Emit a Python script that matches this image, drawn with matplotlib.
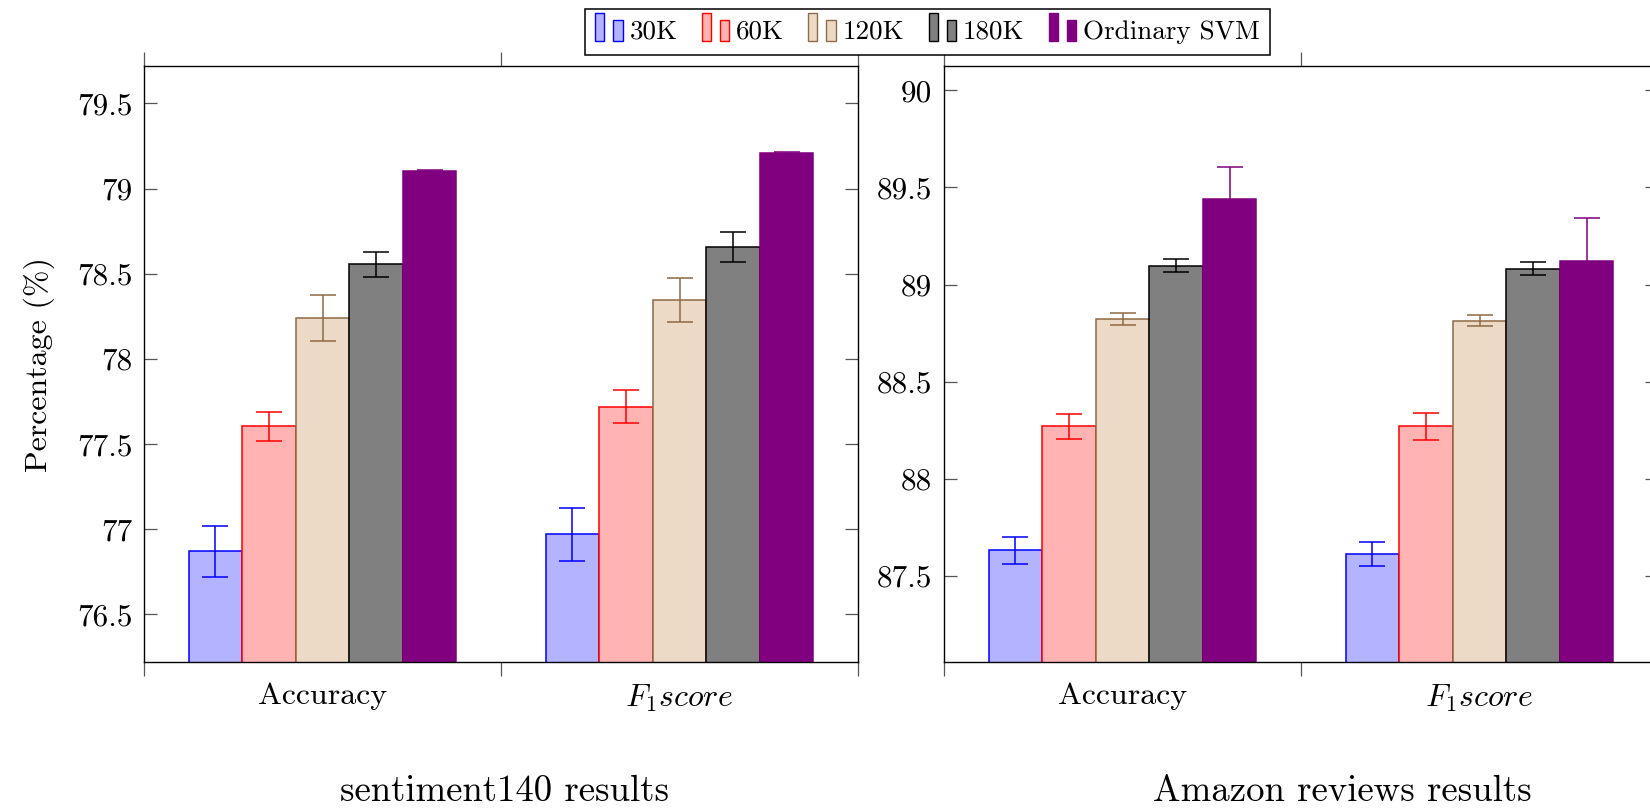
import matplotlib
matplotlib.use("Agg")
import matplotlib.pyplot as plt
import numpy as np
from matplotlib.patches import Rectangle, Patch
from matplotlib.legend_handler import HandlerBase
from matplotlib.ticker import FuncFormatter

# ---------------- data ----------------
categories = ["Accuracy", r"$F_1 score$"]
series_labels = ["30K", "60K", "120K", "180K", "Ordinary SVM"]

# sentiment140 (Accuracy, F1)
s140_30k = [76.87, 76.97]
s140_60k = [77.605, 77.72]
s140_120k = [78.24, 78.345]
s140_180k = [78.555, 78.655]
s140_svm = [79.105, 79.21]
s140_30k_err = [0.15, 0.157]
s140_60k_err = [0.085, 0.098]
s140_120k_err = [0.135, 0.13]
s140_180k_err = [0.073, 0.088]
s140_svm_err = [0.005, 0.006]

# Amazon reviews (Accuracy, F1)
amz_30k = [87.632, 87.613]
amz_60k = [88.27, 88.27]
amz_120k = [88.823, 88.814]
amz_180k = [89.098, 89.081]
amz_svm = [89.44, 89.12]
amz_30k_err = [0.07, 0.062]
amz_60k_err = [0.064, 0.068]
amz_120k_err = [0.032, 0.028]
amz_180k_err = [0.033, 0.033]
amz_svm_err = [0.165, 0.225]

s140_yticks = [76.5, 77, 77.5, 78, 78.5, 79, 79.5]
amz_yticks = [87.5, 88, 88.5, 89, 89.5, 90]

# ---------------- style ----------------
plt.rcParams["font.family"] = ["cmr10", "DejaVu Serif"]
plt.rcParams["mathtext.fontset"] = "cm"
plt.rcParams["axes.unicode_minus"] = False

face_colors = ["#B3B3FF", "#FFB3B3", "#ECD9C6", "#808080", "#800080"]
edge_colors = ["#0000FF", "#FF0000", "#8F6A45", "#000000", "#800080"]

W, H = 1650, 809
fig = plt.figure(figsize=(W / 100, H / 100), dpi=100)

ax1 = fig.add_axes([144 / W, 1 - 662 / H, 714 / W, 596 / H])
ax2 = fig.add_axes([944 / W, 1 - 662 / H, 714 / W, 596 / H])

bar_w = 0.15
offsets = (np.arange(5) - 2) * bar_w
x = np.arange(len(categories))


def draw(ax, vals, errs, ylim, yticks):
    for i in range(5):
        ax.bar(x + offsets[i], vals[i], width=bar_w, color=face_colors[i],
               edgecolor=edge_colors[i], linewidth=1.1, zorder=2,
               yerr=errs[i],
               error_kw=dict(ecolor=edge_colors[i], elinewidth=1.1,
                             capsize=9.4, capthick=1.1, zorder=3))
    ax.set_xlim(-0.5, 1.5)
    ax.set_ylim(*ylim)
    ax.set_yticks(yticks)
    ax.yaxis.set_major_formatter(FuncFormatter(lambda v, p: "%g" % v))
    ax.set_xticks([-0.5, 0.5, 1.5])
    ax.set_xticklabels([])
    ax.set_xticks(x, minor=True)
    ax.set_xticklabels(categories, minor=True, fontsize=23)
    ax.tick_params(axis="x", which="major", direction="out", length=10,
                   width=0.9, color="#555555", top=True, bottom=True)
    ax.tick_params(axis="x", which="minor", length=0, pad=15,
                   bottom=True, top=False)
    ax.tick_params(axis="y", direction="in", length=9.4, width=0.9,
                   color="#555555", left=True, right=True, labelsize=22.5,
                   pad=8.4)
    for s in ax.spines.values():
        s.set_linewidth(1.0)
        s.set_color("black")


draw(ax1,
     [s140_30k, s140_60k, s140_120k, s140_180k, s140_svm],
     [s140_30k_err, s140_60k_err, s140_120k_err, s140_180k_err, s140_svm_err],
     (76.22, 79.72), s140_yticks)
draw(ax2,
     [amz_30k, amz_60k, amz_120k, amz_180k, amz_svm],
     [amz_30k_err, amz_60k_err, amz_120k_err, amz_180k_err, amz_svm_err],
     (87.057, 90.125), amz_yticks)

fig.text(39 / W, 1 - 365 / H, "Percentage (%)", rotation=90,
         ha="center", va="center", fontsize=23)
fig.text(505 / W, 1 - 791 / H, "sentiment140 results",
         ha="center", va="center", fontsize=26.5)
fig.text(1342 / W, 1 - 791 / H, "Amazon reviews results",
         ha="center", va="center", fontsize=26.5)


class TwoBarHandler(HandlerBase):
    def create_artists(self, legend, orig_handle, xdescent, ydescent,
                       width, height, fontsize, trans):
        fc = orig_handle.get_facecolor()
        ec = orig_handle.get_edgecolor()
        w = width / 3.0
        y0 = -ydescent - 0.12 * height
        r1 = Rectangle((-xdescent, y0), w, height * 1.47, facecolor=fc,
                       edgecolor=ec, linewidth=1.0, transform=trans)
        r2 = Rectangle((-xdescent + 2 * w, y0), w, height * 1.1,
                       facecolor=fc, edgecolor=ec, linewidth=1.0,
                       transform=trans)
        return [r1, r2]


handles = [Patch(facecolor=face_colors[i], edgecolor=edge_colors[i])
           for i in range(5)]
leg = fig.legend(handles, series_labels, loc="center",
                 bbox_to_anchor=(927.5 / W, 1 - 32 / H), ncol=5,
                 fontsize=19.5, handlelength=1.0, handleheight=0.7,
                 handletextpad=0.26, columnspacing=0.9, borderpad=0.4,
                 fancybox=False, framealpha=1, edgecolor="black",
                 handler_map={Patch: TwoBarHandler()})
leg.get_frame().set_linewidth(1.1)

fig.savefig("out.png", dpi=100)
